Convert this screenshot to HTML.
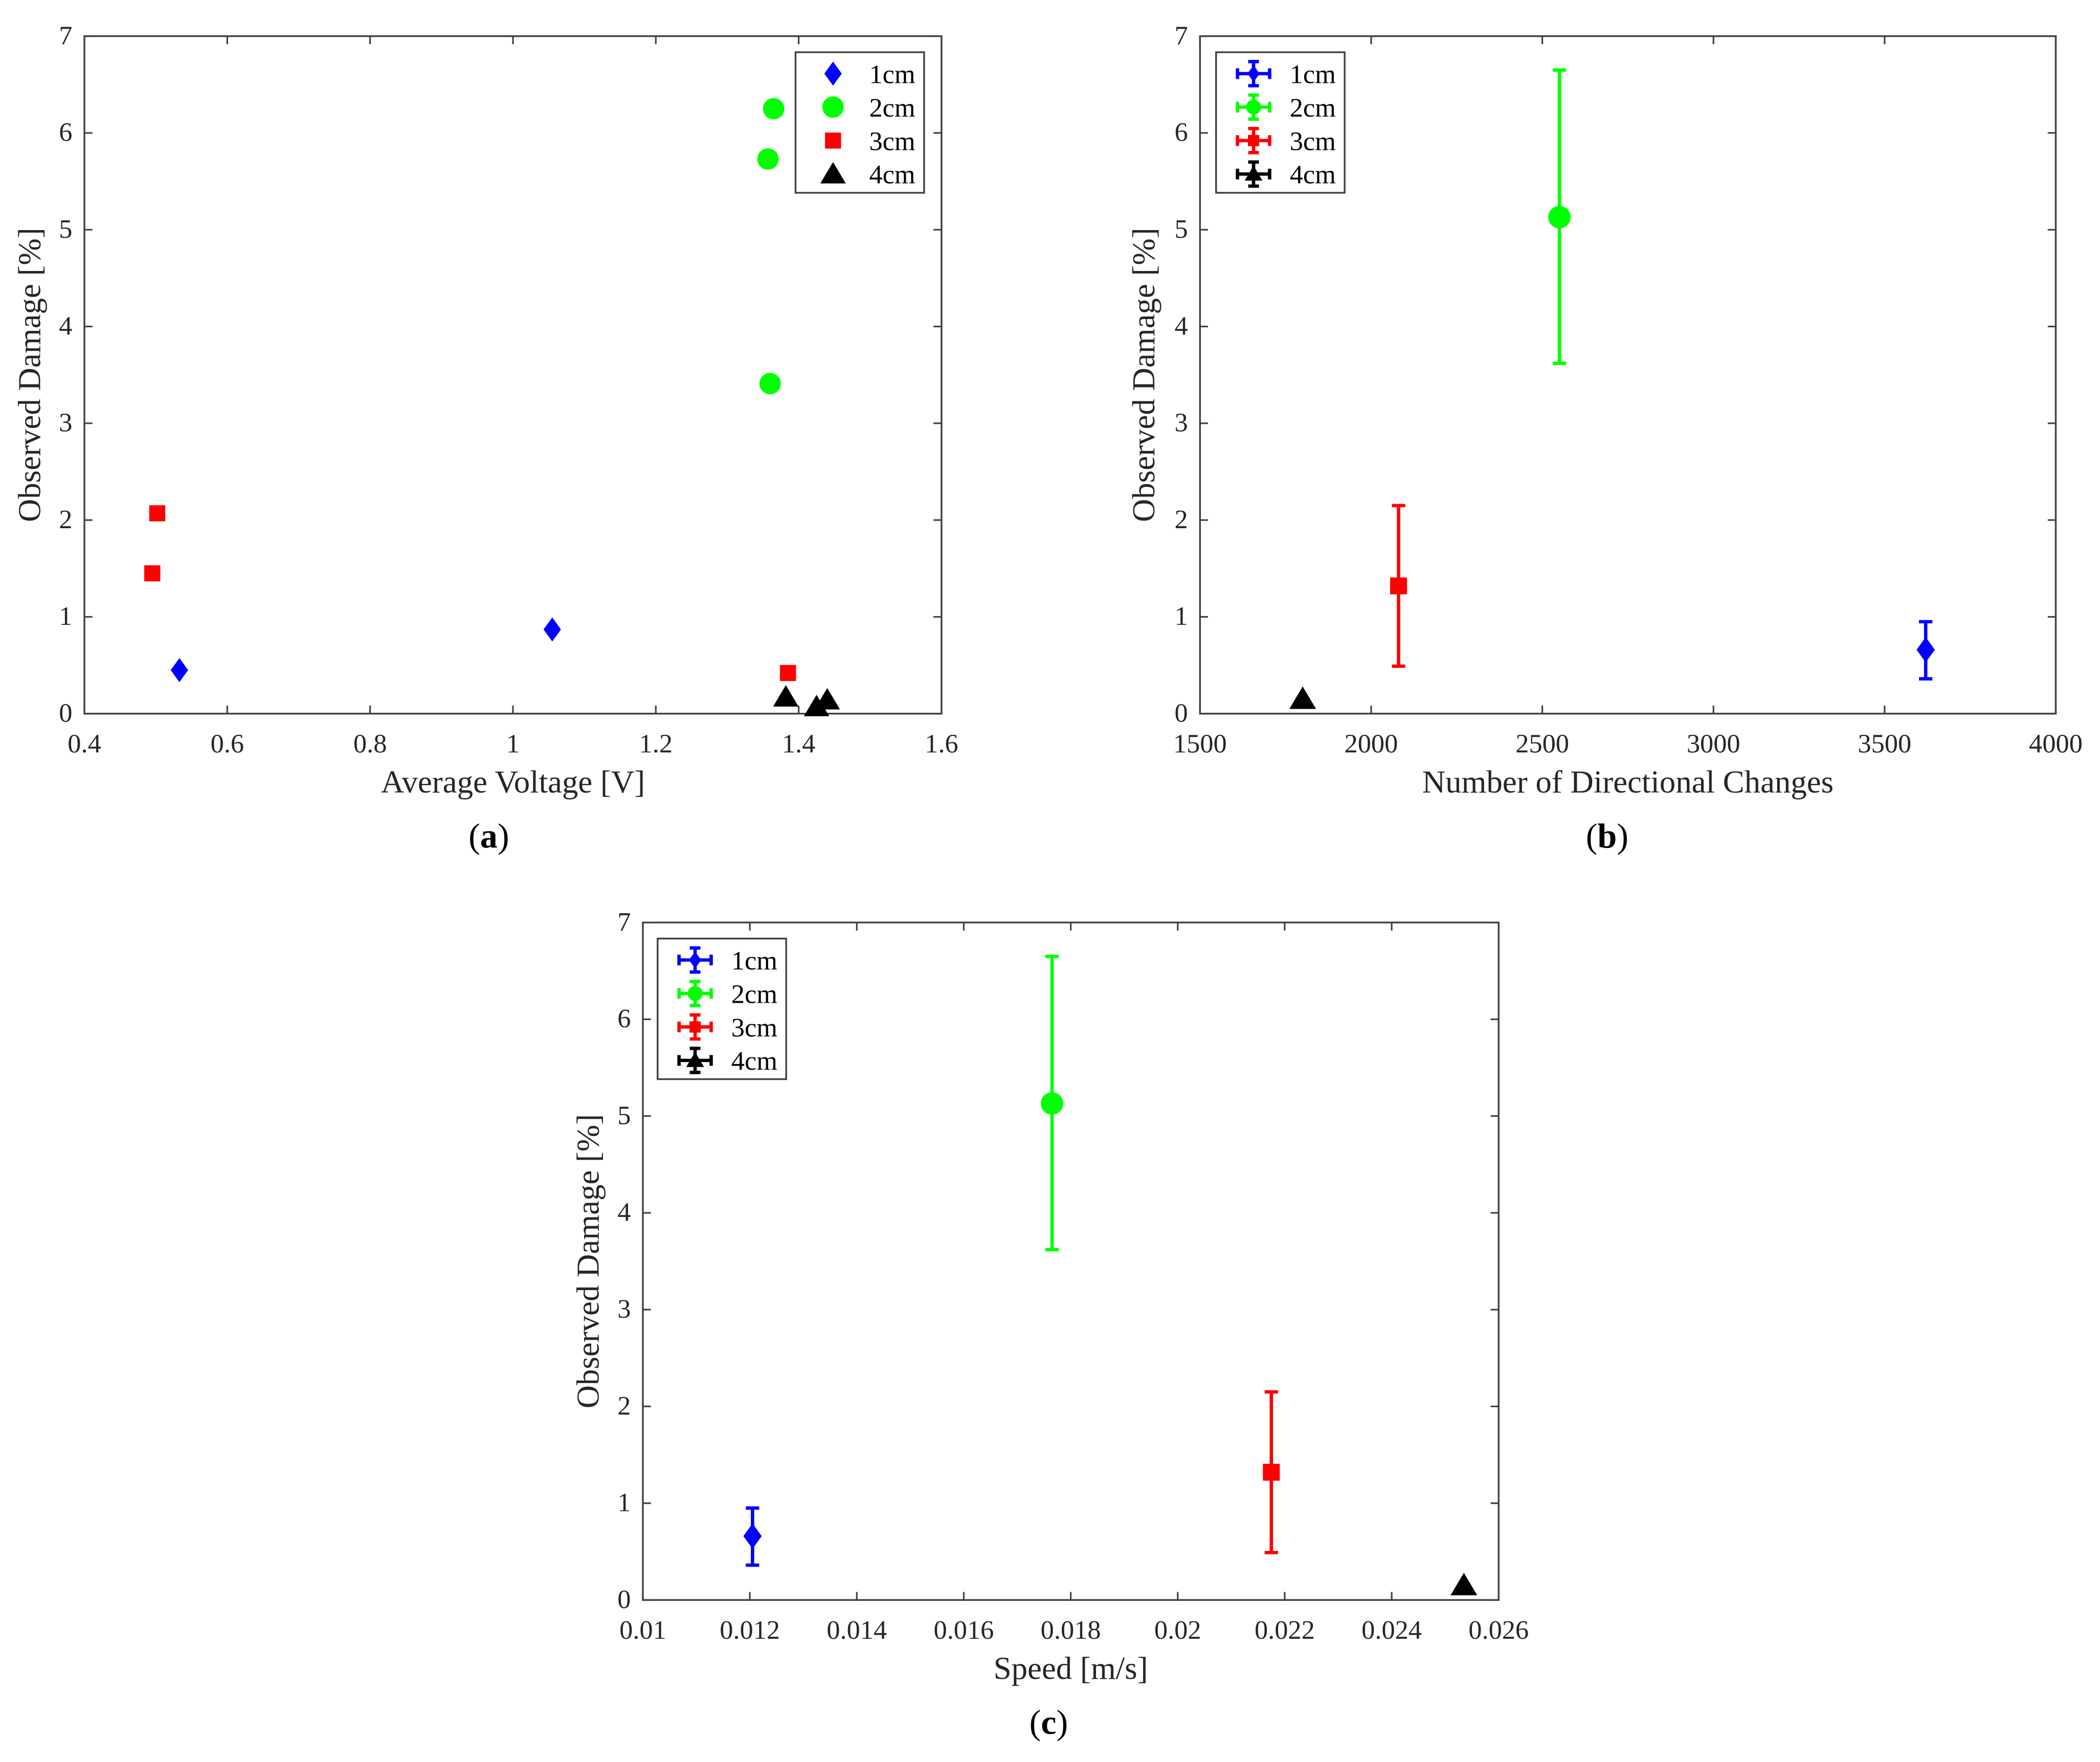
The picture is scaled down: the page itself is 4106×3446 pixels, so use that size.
<!DOCTYPE html>
<html><head><meta charset="utf-8"><style>html,body{margin:0;padding:0;background:#fff}svg{display:block}svg text{font-family:"Liberation Serif","DejaVu Serif",serif !important;fill:#262626}</style></head>
<body>
<svg id="fig" width="4106" height="3446" viewBox="0 0 1568 1316" font-family="Liberation Serif, serif" xmlns="http://www.w3.org/2000/svg"></svg>
<script>
// ---- data ----
const seriesNames = ["1cm","2cm","3cm","4cm"];
const colors = ["#0000ff","#00ff00","#ff0000","#000000"];
const shapes = ["diamond","circle","square","triangle"];
// panel a
const aX1 = [0.533,1.055], aY1 = [0.45,0.87];
const aX2 = [1.365,1.357,1.36], aY2 = [6.25,5.73,3.41];
const aX3 = [0.495,0.502,1.385], aY3 = [1.45,2.07,0.42];
const aX4 = [1.382,1.425,1.44], aY4 = [0.17,0.07,0.14];
const aXTicks = [0.4,0.6,0.8,1,1.2,1.4,1.6];
// panel b
const bX = [3620,2550,2080,1800];
const bY = [0.66,5.13,1.32,0.15];
const bLo = [0.36,3.62,0.49,0.15];
const bHi = [0.95,6.65,2.15,0.15];
const bXTicks = [1500,2000,2500,3000,3500,4000];
// panel c
const cX = [0.01205,0.01765,0.02175,0.02535];
const cY = [0.66,5.13,1.32,0.15];
const cLo = [0.36,3.62,0.49,0.15];
const cHi = [0.95,6.65,2.15,0.15];
const cXTicks = [0.01,0.012,0.014,0.016,0.018,0.02,0.022,0.024,0.026];
const yTicks = [0,1,2,3,4,5,6,7];

const NS="http://www.w3.org/2000/svg";
const svg=document.getElementById('fig');
function mk(tag,attrs,parent){const e=document.createElementNS(NS,tag);for(const k in attrs)e.setAttribute(k,attrs[k]);(parent||svg).appendChild(e);return e;}
function txt(s,attrs,parent){attrs['font-family']='Liberation Serif, serif';const e=mk('text',attrs,parent);e.textContent=s;return e;}

function marker(g,shape,cx,cy,color,s){
  s=s||1;let e;
  if(shape==='diamond')e=mk('polygon',{points:`${cx},${cy-9*s} ${cx+6.5*s},${cy} ${cx},${cy+9*s} ${cx-6.5*s},${cy}`,fill:color},g);
  else if(shape==='circle')e=mk('circle',{cx:cx,cy:cy,r:8*s,fill:color},g);
  else if(shape==='square')e=mk('rect',{x:cx-6*s,y:cy-6*s,width:12*s,height:12*s,fill:color},g);
  else e=mk('polygon',{points:`${cx},${cy-9*s} ${cx+9.5*s},${cy+7*s} ${cx-9.5*s},${cy+7*s}`,fill:color},g);
  return e;
}

function axes(name,L,R,T,B,xmin,xmax,xticks,xlabel,ylx,xly,sub,subx,suby,fmt){
  const g=mk('g',{});
  
  
  const sx=v=>L+(v-xmin)/(xmax-xmin)*(R-L);
  const sy=v=>B-v/7*(B-T);
  mk('rect',{x:L,y:T,width:R-L,height:B-T,fill:'none',stroke:'#404040','stroke-width':1.3},g);
  xticks.forEach(t=>{const x=sx(t);
    mk('line',{x1:x,y1:B,x2:x,y2:B-6,stroke:'#404040','stroke-width':1.2},g);
    mk('line',{x1:x,y1:T,x2:x,y2:T+6,stroke:'#404040','stroke-width':1.2},g);
    const lt=txt(fmt(t),{x:x,y:B+29,'font-size':20,'text-anchor':'middle'},g);
    
    });
  yTicks.forEach(t=>{const y=sy(t);
    mk('line',{x1:L,y1:y,x2:L+6,y2:y,stroke:'#404040','stroke-width':1.2},g);
    mk('line',{x1:R,y1:y,x2:R-6,y2:y,stroke:'#404040','stroke-width':1.2},g);
    const lt=txt(String(t),{x:L-9,y:y+6,'font-size':20,'text-anchor':'end'},g);
    
    });
  const xl=txt(xlabel,{x:(L+R)/2,y:xly,'font-size':24,'text-anchor':'middle'},g);
  
  
  const yl=txt('Observed Damage [%]',{x:0,y:0,'font-size':24,'text-anchor':'middle',transform:`translate(${ylx},${(T+B)/2}) rotate(-90)`},g);
  
  
  const st=mk('text',{x:subx,y:suby,'font-size':26,'text-anchor':'middle','font-family':'Liberation Serif, serif',style:'fill:#000'},g);
  st.innerHTML=`(<tspan font-weight="bold">${sub}</tspan>)`;
  
  
  return {g,sx,sy};
}

function legend(g,x,y,err){
  const lg=mk('g',{},g);
  
  
  mk('rect',{x:x,y:y,width:96,height:105,fill:'#fff',stroke:'#404040','stroke-width':1.3},lg);
  seriesNames.forEach((n,i)=>{
    const cy=y+16+i*25, mx=x+28;
    const e=mk('g',{},lg);
    
    
    if(err){
      const c=colors[i];
      mk('line',{x1:mx-12,y1:cy,x2:mx+12,y2:cy,stroke:c,'stroke-width':2.5},e);
      mk('line',{x1:mx-12,y1:cy-4,x2:mx-12,y2:cy+4,stroke:c,'stroke-width':2.5},e);
      mk('line',{x1:mx+12,y1:cy-4,x2:mx+12,y2:cy+4,stroke:c,'stroke-width':2.5},e);
      mk('line',{x1:mx,y1:cy-9,x2:mx,y2:cy+9,stroke:c,'stroke-width':2.5},e);
      mk('line',{x1:mx-4,y1:cy-9,x2:mx+4,y2:cy-9,stroke:c,'stroke-width':2.5},e);
      mk('line',{x1:mx-4,y1:cy+9,x2:mx+4,y2:cy+9,stroke:c,'stroke-width':2.5},e);
      marker(e,shapes[i],mx,cy,c,0.7);
    } else marker(e,shapes[i],mx,cy,colors[i],1);
    txt(n,{x:x+55,y:cy+7,'font-size':20,style:'fill:#000'},e);
  });
}

// panel a
const A=axes('panel-a',63,703,27,533,0.4,1.6,aXTicks,'Average Voltage [V]',30,592,'a',365,633,t=>String(t));
const aXs=[aX1,aX2,aX3,aX4], aYs=[aY1,aY2,aY3,aY4];
aXs.forEach((xs,i)=>xs.forEach((v,j)=>{
  const m=marker(A.g,shapes[i],A.sx(v),A.sy(aYs[i][j]),colors[i],1);
  
  
}));
legend(A.g,594,39,false);

function errPanel(P,xs,ys,lo,hi){
  xs.forEach((v,i)=>{
    const g=mk('g',{},P.g);
    
    
    const x=P.sx(v),c=colors[i];
    if(hi[i]>lo[i]){
      mk('line',{x1:x,y1:P.sy(lo[i]),x2:x,y2:P.sy(hi[i]),stroke:c,'stroke-width':2.5},g);
      mk('line',{x1:x-5,y1:P.sy(lo[i]),x2:x+5,y2:P.sy(lo[i]),stroke:c,'stroke-width':2.5},g);
      mk('line',{x1:x-5,y1:P.sy(hi[i]),x2:x+5,y2:P.sy(hi[i]),stroke:c,'stroke-width':2.5},g);
    }
    marker(g,shapes[i],x,P.sy(ys[i]),c,1.05);
  });
}
// panel b
const Bp=axes('panel-b',896,1535,27,533,1500,4000,bXTicks,'Number of Directional Changes',862,592,'b',1200,633,t=>String(t));
errPanel(Bp,bX,bY,bLo,bHi);
legend(Bp.g,908,39,true);
// panel c
const Cp=axes('panel-c',480,1119,689,1195,0.01,0.026,cXTicks,'Speed [m/s]',447,1254,'c',783,1295,t=>String(+t.toFixed(3)));
errPanel(Cp,cX,cY,cLo,cHi);
legend(Cp.g,491,701,true);
</script>
</body></html>
